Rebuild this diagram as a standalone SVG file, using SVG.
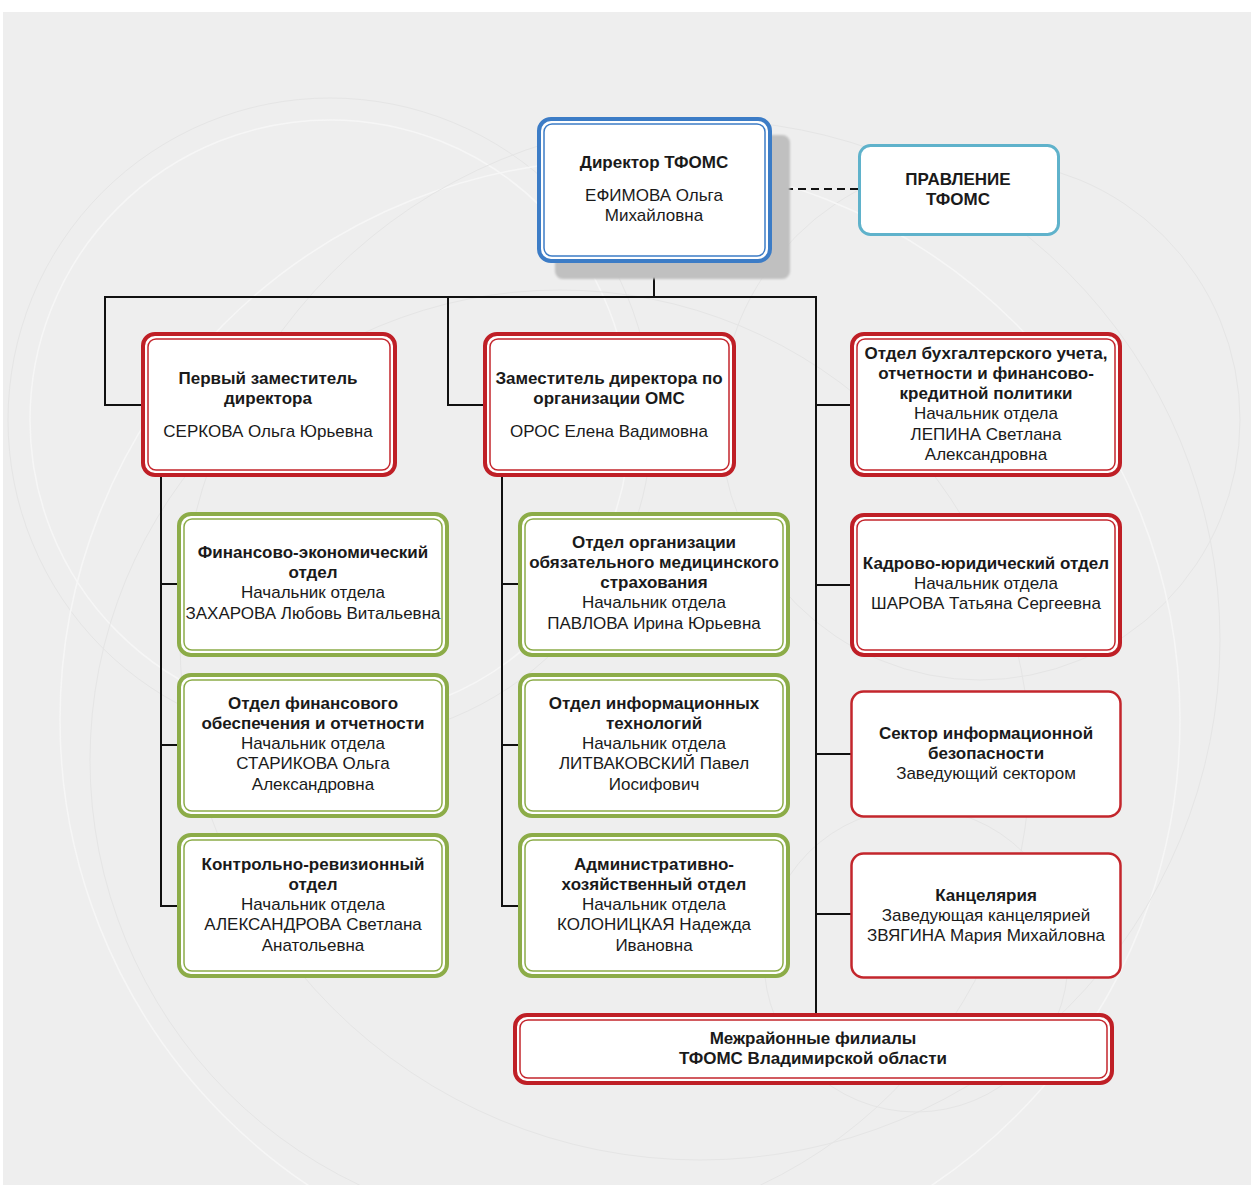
<svg xmlns="http://www.w3.org/2000/svg" width="1251" height="1185" viewBox="0 0 1251 1185">
<defs>
<style>
text{font-family:"Liberation Sans",Arial,sans-serif;font-size:17px;fill:#1a1a1a;text-anchor:middle}
.b{font-weight:bold}
.bg-arc{fill:none;stroke:#e5e5e5;stroke-width:1}
.bg-arc2{fill:none;stroke:#f6f6f6;stroke-width:1.5}
.conn{fill:none;stroke:#111;stroke-width:2}
.red-o{fill:#fff;stroke:#bf1f26;stroke-width:4}
.red-i{fill:none;stroke:#c4262d;stroke-width:1.5}
.red-s{fill:#fff;stroke:#c3262c;stroke-width:2.5}
.grn-o{fill:#fff;stroke:#8cac48;stroke-width:4}
.grn-i{fill:none;stroke:#8cac48;stroke-width:1.5}
.blu-o{fill:#fff;stroke:#3c7cc6;stroke-width:4}
.blu-i{fill:none;stroke:#3c7cc6;stroke-width:1.5}
.lb{fill:#fff;stroke:#5fb2cb;stroke-width:3}
</style>
<filter id="blur" x="-10%" y="-10%" width="120%" height="120%"><feGaussianBlur stdDeviation="1.2"/></filter>
</defs>
<rect x="0" y="0" width="1251" height="1185" fill="#fff"/>
<rect x="3" y="12" width="1248" height="1173" fill="#eeeeee"/>
<g id="background">
<circle class="bg-arc" cx="330" cy="420" r="322"/>
<circle class="bg-arc2" cx="330" cy="420" r="300"/>
<circle class="bg-arc" cx="916" cy="960" r="152"/>
<circle class="bg-arc" cx="980" cy="420" r="260"/>
<circle class="bg-arc2" cx="620" cy="720" r="560"/>
<circle class="bg-arc" cx="560" cy="760" r="470"/>
<circle class="bg-arc" cx="700" cy="640" r="520"/>
</g>
<g id="connectors">
<line class="conn" x1="654" y1="263" x2="654" y2="297"/>
<line class="conn" x1="104" y1="297" x2="817" y2="297"/>
<polyline class="conn" points="105,297 105,405 141,405"/>
<polyline class="conn" points="448,297 448,405 484,405"/>
<line class="conn" x1="816" y1="297" x2="816" y2="1014"/>
<line class="conn" x1="816" y1="405" x2="851" y2="405"/>
<line class="conn" x1="816" y1="585" x2="851" y2="585"/>
<line class="conn" x1="816" y1="754" x2="851" y2="754"/>
<line class="conn" x1="816" y1="914" x2="851" y2="914"/>
<polyline class="conn" points="161,477 161,906 178,906"/>
<line class="conn" x1="161" y1="584" x2="178" y2="584"/>
<line class="conn" x1="161" y1="745" x2="178" y2="745"/>
<polyline class="conn" points="502,477 502,906 519,906"/>
<line class="conn" x1="502" y1="584" x2="519" y2="584"/>
<line class="conn" x1="502" y1="745" x2="519" y2="745"/>
<line x1="772" y1="189" x2="858" y2="189" stroke="#111" stroke-width="2" stroke-dasharray="8,5"/>
</g>
<g id="director">
<rect x="555" y="135" width="235" height="144" rx="8" fill="#c0c0c0" filter="url(#blur)"/>
<rect class="blu-o" x="539" y="119" width="231" height="142" rx="12"/>
<rect class="blu-i" x="544" y="124" width="221" height="132" rx="8"/>
<text class="b" x="654" y="168">Директор ТФОМС</text>
<text x="654" y="201">ЕФИМОВА Ольга</text>
<text x="654" y="221">Михайловна</text>
</g>
<g id="board">
<rect class="lb" x="859.5" y="145.5" width="199" height="89" rx="11"/>
<text class="b" x="958" y="185">ПРАВЛЕНИЕ</text>
<text class="b" x="958" y="205">ТФОМС</text>
</g>
<g id="first-deputy">
<rect class="red-o" x="143" y="334" width="252" height="141" rx="12"/>
<rect class="red-i" x="148" y="339" width="242" height="131" rx="8"/>
<text class="b" x="268" y="384">Первый заместитель</text>
<text class="b" x="268" y="404">директора</text>
<text x="268" y="437">СЕРКОВА Ольга Юрьевна</text>
</g>
<g id="deputy-oms">
<rect class="red-o" x="485" y="334" width="249" height="141" rx="12"/>
<rect class="red-i" x="490" y="339" width="239" height="131" rx="8"/>
<text class="b" x="609" y="384">Заместитель директора по</text>
<text class="b" x="609" y="404">организации ОМС</text>
<text x="609" y="437">ОРОС Елена Вадимовна</text>
</g>
<g id="accounting">
<rect class="red-o" x="852" y="334" width="268" height="141" rx="12"/>
<rect class="red-i" x="857" y="339" width="258" height="131" rx="8"/>
<text class="b" x="986" y="359">Отдел бухгалтерского учета,</text>
<text class="b" x="986" y="379">отчетности и финансово-</text>
<text class="b" x="986" y="399">кредитной политики</text>
<text x="986" y="419">Начальник отдела</text>
<text x="986" y="440">ЛЕПИНА Светлана</text>
<text x="986" y="460">Александровна</text>
</g>
<g id="hr-legal">
<rect class="red-o" x="852" y="515" width="268" height="140" rx="12"/>
<rect class="red-i" x="857" y="520" width="258" height="130" rx="8"/>
<text class="b" x="986" y="569">Кадрово-юридический отдел</text>
<text x="986" y="589">Начальник отдела</text>
<text x="986" y="609">ШАРОВА Татьяна Сергеевна</text>
</g>
<g id="infosec">
<rect class="red-s" x="851.5" y="691.5" width="269" height="125" rx="12"/>
<text class="b" x="986" y="739">Сектор информационной</text>
<text class="b" x="986" y="759">безопасности</text>
<text x="986" y="779">Заведующий сектором</text>
</g>
<g id="chancellery">
<rect class="red-s" x="851.5" y="853.5" width="269" height="124" rx="12"/>
<text class="b" x="986" y="901">Канцелярия</text>
<text x="986" y="921">Заведующая канцелярией</text>
<text x="986" y="941">ЗВЯГИНА Мария Михайловна</text>
</g>
<g id="fin-econ">
<rect class="grn-o" x="179" y="514" width="268" height="141" rx="12"/>
<rect class="grn-i" x="184" y="519" width="258" height="131" rx="8"/>
<text class="b" x="313" y="558">Финансово-экономический</text>
<text class="b" x="313" y="578">отдел</text>
<text x="313" y="598">Начальник отдела</text>
<text x="313" y="619">ЗАХАРОВА Любовь Витальевна</text>
</g>
<g id="fin-support">
<rect class="grn-o" x="179" y="675" width="268" height="141" rx="12"/>
<rect class="grn-i" x="184" y="680" width="258" height="131" rx="8"/>
<text class="b" x="313" y="709">Отдел финансового</text>
<text class="b" x="313" y="729">обеспечения и отчетности</text>
<text x="313" y="749">Начальник отдела</text>
<text x="313" y="769">СТАРИКОВА Ольга</text>
<text x="313" y="790">Александровна</text>
</g>
<g id="audit">
<rect class="grn-o" x="179" y="835" width="268" height="141" rx="12"/>
<rect class="grn-i" x="184" y="840" width="258" height="131" rx="8"/>
<text class="b" x="313" y="870">Контрольно-ревизионный</text>
<text class="b" x="313" y="890">отдел</text>
<text x="313" y="910">Начальник отдела</text>
<text x="313" y="930">АЛЕКСАНДРОВА Светлана</text>
<text x="313" y="951">Анатольевна</text>
</g>
<g id="oms-dept">
<rect class="grn-o" x="520" y="514" width="268" height="141" rx="12"/>
<rect class="grn-i" x="525" y="519" width="258" height="131" rx="8"/>
<text class="b" x="654" y="548">Отдел организации</text>
<text class="b" x="654" y="568">обязательного медицинского</text>
<text class="b" x="654" y="588">страхования</text>
<text x="654" y="608">Начальник отдела</text>
<text x="654" y="629">ПАВЛОВА Ирина Юрьевна</text>
</g>
<g id="it-dept">
<rect class="grn-o" x="520" y="675" width="268" height="141" rx="12"/>
<rect class="grn-i" x="525" y="680" width="258" height="131" rx="8"/>
<text class="b" x="654" y="709">Отдел информационных</text>
<text class="b" x="654" y="729">технологий</text>
<text x="654" y="749">Начальник отдела</text>
<text x="654" y="769">ЛИТВАКОВСКИЙ Павел</text>
<text x="654" y="790">Иосифович</text>
</g>
<g id="admin-dept">
<rect class="grn-o" x="520" y="835" width="268" height="141" rx="12"/>
<rect class="grn-i" x="525" y="840" width="258" height="131" rx="8"/>
<text class="b" x="654" y="870">Административно-</text>
<text class="b" x="654" y="890">хозяйственный отдел</text>
<text x="654" y="910">Начальник отдела</text>
<text x="654" y="930">КОЛОНИЦКАЯ Надежда</text>
<text x="654" y="951">Ивановна</text>
</g>
<g id="branches">
<rect class="red-o" x="515" y="1015" width="597" height="68" rx="12"/>
<rect class="red-i" x="520" y="1020" width="587" height="58" rx="8"/>
<text class="b" x="813" y="1044">Межрайонные филиалы</text>
<text class="b" x="813" y="1064">ТФОМС Владимирской области</text>
</g>
</svg>
